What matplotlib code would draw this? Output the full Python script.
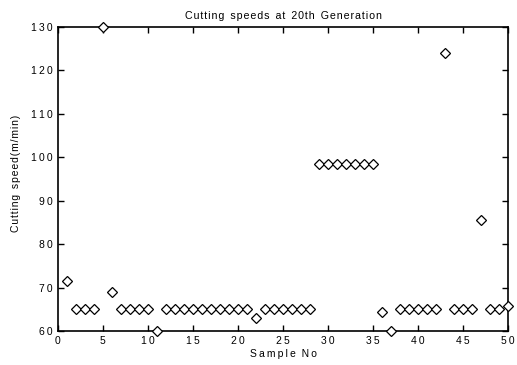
import matplotlib
matplotlib.use("Agg")
import matplotlib.pyplot as plt

plt.rcParams["font.family"] = ["Liberation Sans", "DejaVu Sans"]

sample_no = list(range(1, 51))
speeds = [71.5, 65, 65, 65, 130, 69, 65, 65, 65, 65,
          60, 65, 65, 65, 65, 65, 65, 65, 65, 65,
          65, 63, 65, 65, 65, 65, 65, 65, 98.5, 98.5,
          98.5, 98.5, 98.5, 98.5, 98.5, 64.3, 60, 65, 65, 65,
          65, 65, 124, 65, 65, 65, 85.5, 65, 65, 65.8]
x_ticks = list(range(0, 51, 5))
y_ticks = list(range(60, 131, 10))


def spaced(s, gap="\u200a"):
    # old plot has letter-spaced text, fake it with thin spaces
    return gap.join(s).replace(gap + " " + gap, "  ")


fig = plt.figure(figsize=(5.17, 3.65), dpi=100)
ax = fig.add_axes([0.112, 0.093, 0.871, 0.833])

ax.plot(sample_no, speeds, linestyle="none", marker="D", markersize=5.5,
        markerfacecolor="white", markeredgecolor="black", markeredgewidth=0.9,
        clip_on=False, zorder=3)

ax.set_xlim(0, 50)
ax.set_ylim(60, 130)
ax.set_xticks(x_ticks)
ax.set_xticklabels([spaced(str(v), "\u2009") for v in x_ticks])
ax.set_yticks(y_ticks)
ax.set_yticklabels([spaced(str(v), "\u2009") for v in y_ticks])
ax.tick_params(direction="in", top=True, right=True, labelsize=7.5, length=4, width=1)
for s in ax.spines.values():
    s.set_linewidth(1.2)

ax.set_title(spaced("Cutting speeds at 20th Generation"), fontsize=7.7, pad=6)
ax.set_xlabel(spaced("Sample No", "\u2009"), fontsize=7.5, labelpad=2)
ax.set_ylabel(spaced("Cutting speed(m/min)"), fontsize=7.5)
ax.yaxis.set_label_coords(-0.082, 0.52)

fig.savefig("out.png", dpi=100)
